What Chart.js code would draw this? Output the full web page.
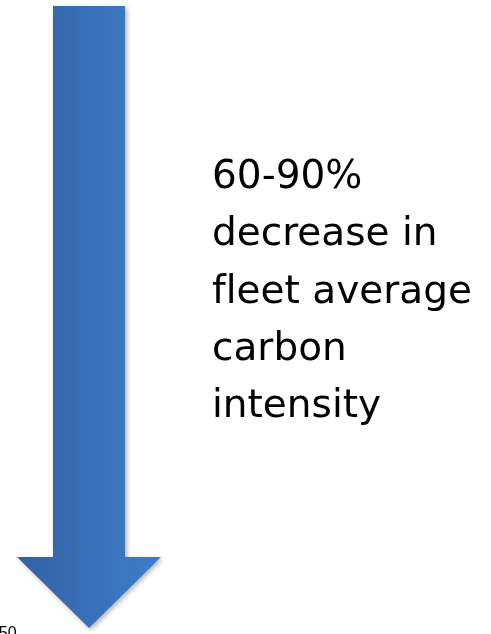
<!DOCTYPE html>
<html>
<head>
<meta charset="utf-8">
<script src="https://cdn.jsdelivr.net/npm/chart.js@4"></script>
<style>
	body { margin: 0; background: #fff; }
	#wrap { position: relative; width: 491px; height: 634px; overflow: hidden; }
	#chart { position: absolute; left: 0; top: 0; }
	#label { position: absolute; left: 212px; top: 146px; font-family: "DejaVu Sans", sans-serif; font-size: 39px; line-height: 57.3px; color: #000; white-space: nowrap; font-variant-ligatures: none; }
	#year { position: absolute; left: -19px; top: 624px; font-family: "Liberation Sans", sans-serif; font-size: 16px; color: #000; }
</style>
</head>
<body>
<div id="wrap">
	<canvas id="chart" width="491" height="634"></canvas>
	<div id="label"></div>
	<div id="year">2050</div>
</div>
<script>
// arrow outline, in page units (x from left, y from top)
var arrowX = [53, 125, 125, 161, 89, 17, 53];
var arrowY = [6, 6, 557, 557, 628, 557, 557];
var labelLines = ['60-90%', 'decrease in', 'fleet average', 'carbon', 'intensity'];

var points = [];
for (var i = 0; i < arrowX.length; i++) {
	points.push({x: arrowX[i], y: arrowY[i]});
}

document.getElementById('label').innerHTML = labelLines.join('<br>');

var shadowPlugin = {
	id: 'shadow',
	beforeDatasetsDraw: function(chart) {
		var c = chart.ctx;
		c.save();
		c.shadowColor = 'rgba(0,0,0,0.3)';
		c.shadowBlur = 5;
		c.shadowOffsetX = 2;
		c.shadowOffsetY = 2;
	},
	afterDatasetsDraw: function(chart) {
		chart.ctx.restore();
	}
};

var ctx = document.getElementById('chart').getContext('2d');
var chart = new Chart(ctx, {
	type: 'scatter',
	data: {
		datasets: [
			{
				label: 'arrow',
				data: points,
				showLine: true,
				fill: 'shape',
				tension: 0,
				pointRadius: 0,
				borderWidth: 0,
				borderColor: 'rgba(0,0,0,0)',
				backgroundColor: function(context) {
					var ch = context.chart;
					if (!ch.chartArea) return '#3870b8';
					var xs = ch.scales.x;
					var g = ch.ctx.createLinearGradient(xs.getPixelForValue(17), 0, xs.getPixelForValue(161), 0);
					g.addColorStop(0, 'rgb(49,98,164)');
					g.addColorStop(1, 'rgb(63,126,202)');
					return g;
				}
			}
		]
	},
	options: {
		responsive: false,
		animation: false,
		layout: { padding: 0 },
		plugins: {
			legend: { display: false },
			tooltip: { enabled: false }
		},
		scales: {
			x: { type: 'linear', min: 0, max: 491, display: false },
			y: { type: 'linear', min: 0, max: 634, reverse: true, display: false }
		}
	},
	plugins: [shadowPlugin]
});
</script>
</body>
</html>
